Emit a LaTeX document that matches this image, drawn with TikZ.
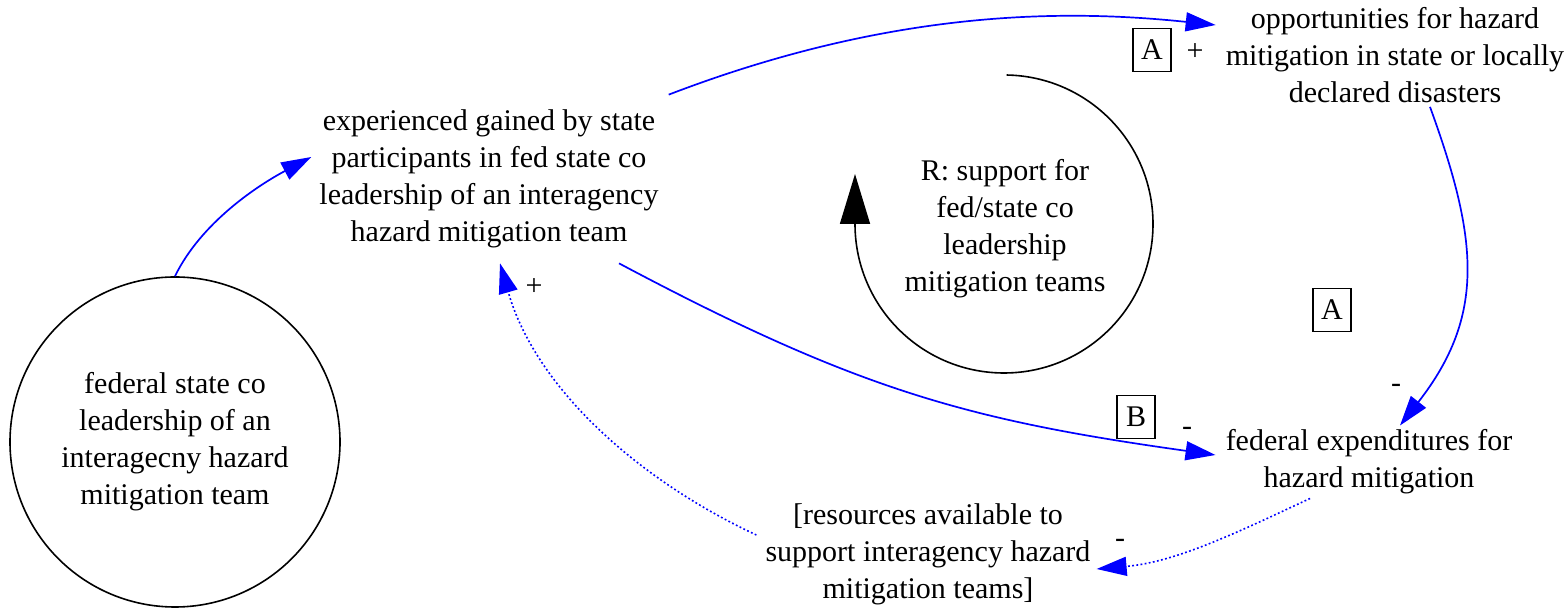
\documentclass[tikz,border=0pt]{standalone}
\usepackage{fontspec}
\setmainfont{Liberation Serif}
\usetikzlibrary{arrows.meta}

\begin{document}
\begin{tikzpicture}[
    x=1pt, y=1pt,
    var/.style={align=center, inner sep=4pt,
                font=\fontsize{30}{37}\selectfont},
    stock/.style={var, circle, draw, line width=1.6pt,
                  minimum size=330pt, inner sep=0pt},
    link/.style={line width=1.7pt, linkblue,
                 -{Triangle[length=30pt, width=19pt]}},
    dotlink/.style={link, line width=1.6pt, dash pattern=on 1.8pt off 2.4pt},
    tag/.style={draw, line width=1.2pt, minimum width=38pt,
                minimum height=43pt, inner sep=0pt,
                font=\fontsize{30}{37}\selectfont},
    sign/.style={inner sep=0pt, font=\fontsize{30}{37}\selectfont}
]
\definecolor{linkblue}{HTML}{0000FF}
\useasboundingbox (0,0) rectangle (1566,612);

% Variablen
\node[stock] (circ) at (175,170) {federal state co\\leadership of an\\
    interagecny hazard\\mitigation team};
\node[var] (exp) at (489,433) {experienced gained by state\\
    participants in fed state co\\leadership of an interagency\\
    hazard mitigation team};
\node[var] (opp) at (1395,557) {opportunities for hazard\\
    mitigation in state or locally\\declared disasters};
\node[var] (fed) at (1369,150) {federal expenditures for\\hazard mitigation};
\node[var] (res) at (928,58) {[resources available to\\
    support interagency hazard\\mitigation teams]};
\node[var, inner sep=0pt] (rlab) at (1005,383) {R: support for\\
    fed/state co\\leadership\\mitigation teams};

% Schleife
\coordinate (loopc) at (1004,388);
\draw[line width=1.6pt, -{Triangle[length=50pt, width=30pt]}]
    (loopc) ++(89:149) arc[start angle=89, end angle=-180, radius=149]
    -- ++(0,50);

% Kanten
\draw[link] (circ.north) .. controls +(64:60) and +(208:60)
    .. ([shift={(-4,22)}]exp.west);
\draw[link] ([shift={(6,11)}]exp.north east) .. controls +(21:240)
    and +(174:150) .. ([shift={(-6,30)}]opp.west);
\draw[link] ([xshift=35]opp.south) .. controls +(-70:140)
    and +(52:140) .. ([xshift=31]fed.north);
\draw[link] ([shift={(130,-11)}]exp.south) .. controls +(-28:270)
    and +(172:250) .. ([shift={(-6,7)}]fed.west);
\draw[dotlink] ([xshift=-59]fed.south) .. controls +(205:80)
    and +(5:80) .. ([shift={(2,-15)}]res.east);
\draw[dotlink] ([shift={(-5,19)}]res.west) .. controls +(155:130)
    and +(-74:130) .. ([shift={(11,-11)}]exp.south);

% Polaritaeten und Schleifenmarken
\node[tag] (tagA1) at (1152,562) {A};
\node[sign] (pl1) at (1195,560) {+};
\node[tag] (tagA2) at (1332,302) {A};
\node[sign] (mi1) at (1396,224) {-};
\node[tag] (tagB) at (1136,195) {B};
\node[sign] (mi2) at (1187,181) {-};
\node[sign] (mi3) at (1120,69) {-};
\node[sign] (pl2) at (534,325) {+};
\end{tikzpicture}
\end{document}
